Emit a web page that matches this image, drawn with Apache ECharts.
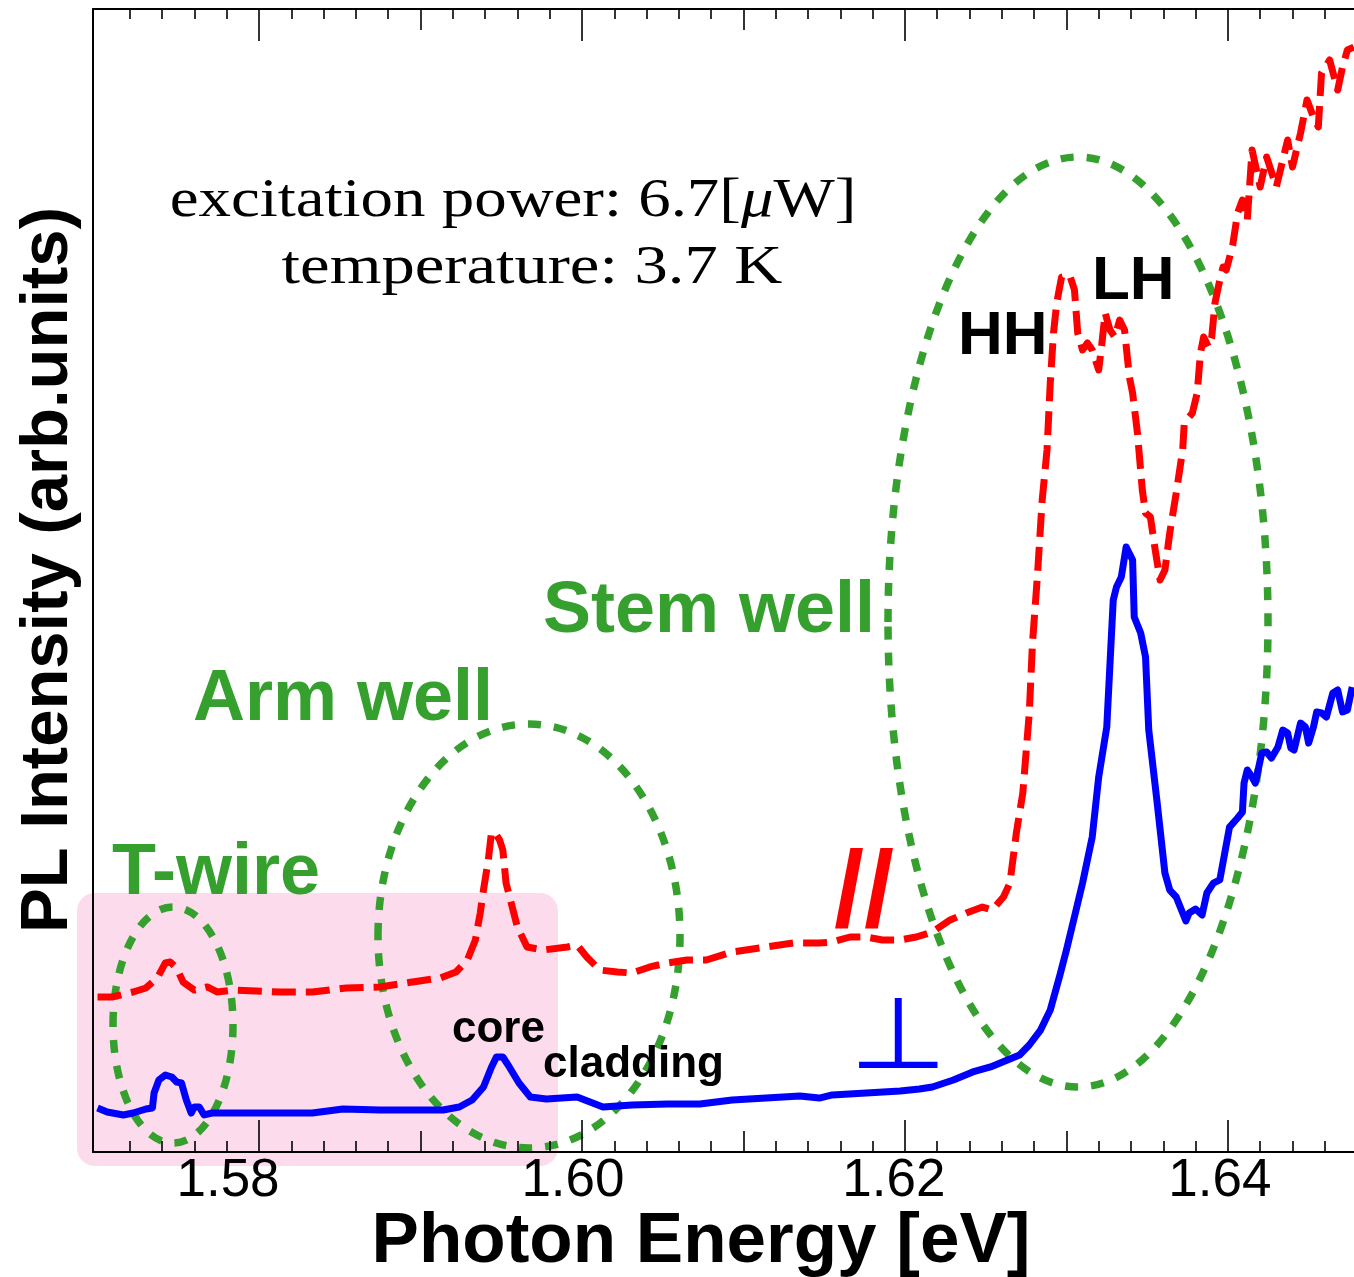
<!DOCTYPE html>
<html>
<head>
<meta charset="utf-8">
<script src="https://cdn.jsdelivr.net/npm/echarts@6/dist/echarts.min.js"></script>
<style>
  html, body { margin: 0; padding: 0; background: #ffffff; }
  #chart { width: 1354px; height: 1277px; }
</style>
</head>
<body>
<div id="chart"></div>
<script>
// PL spectra, [photon energy (eV), intensity (arb. units)]
// perpendicular polarization (solid blue)
const perpSpectrum = [
  [1.5700, 3.85], [1.5706, 3.50], [1.5716, 3.24], [1.5722, 3.41], [1.5730, 3.76],
  [1.5734, 3.85], [1.5735, 5.16], [1.5738, 6.30], [1.5742, 6.74], [1.5746, 6.56],
  [1.5749, 6.12], [1.5752, 6.04], [1.5755, 4.55], [1.5758, 3.41], [1.5760, 3.94],
  [1.5763, 3.94], [1.5766, 3.24], [1.5771, 3.41], [1.5792, 3.41], [1.5813, 3.41],
  [1.5833, 3.41], [1.5852, 3.76], [1.5875, 3.67], [1.5895, 3.67], [1.5914, 3.67],
  [1.5924, 3.94], [1.5932, 4.55], [1.5939, 5.69], [1.5944, 7.44], [1.5947, 8.31],
  [1.5951, 8.31], [1.5955, 7.44], [1.5961, 6.04], [1.5968, 4.81], [1.5978, 4.64],
  [1.5997, 4.81], [1.6005, 4.37], [1.6013, 3.94], [1.6031, 4.11], [1.6053, 4.20],
  [1.6073, 4.20], [1.6093, 4.55], [1.6114, 4.72], [1.6135, 4.90], [1.6147, 4.72],
  [1.6155, 4.99], [1.6176, 5.16], [1.6197, 5.34], [1.6209, 5.51], [1.6217, 5.69],
  [1.6230, 6.30], [1.6242, 7.00], [1.6253, 7.44], [1.6259, 7.79], [1.6271, 8.49],
  [1.6277, 9.36], [1.6284, 10.67], [1.6290, 12.42], [1.6296, 15.49], [1.6300, 17.67],
  [1.6306, 21.17], [1.6310, 23.53], [1.6316, 27.56], [1.6320, 32.81], [1.6325, 37.18],
  [1.6329, 48.29], [1.6331, 49.43], [1.6334, 50.31], [1.6337, 52.93], [1.6341, 51.79],
  [1.6342, 46.81], [1.6346, 45.41], [1.6349, 43.31], [1.6351, 36.92], [1.6356, 30.80],
  [1.6361, 24.41], [1.6364, 22.92], [1.6368, 22.31], [1.6372, 20.91], [1.6374, 20.21],
  [1.6376, 20.91], [1.6380, 21.26], [1.6384, 20.73], [1.6387, 22.66], [1.6391, 23.53],
  [1.6395, 23.80], [1.6401, 28.43], [1.6406, 29.22], [1.6409, 29.75], [1.6410, 32.28],
  [1.6412, 33.42], [1.6415, 32.81], [1.6417, 32.28], [1.6421, 34.91], [1.6424, 35.00],
  [1.6427, 34.47], [1.6431, 35.43], [1.6434, 36.92], [1.6437, 36.66], [1.6439, 35.35],
  [1.6441, 35.17], [1.6445, 37.53], [1.6448, 37.18], [1.6450, 35.78], [1.6453, 37.18],
  [1.6455, 38.50], [1.6458, 38.41], [1.6461, 38.06], [1.6465, 40.16], [1.6468, 40.42],
  [1.6471, 38.50], [1.6474, 38.67], [1.6477, 40.68]
];

// parallel polarization (dashed red)
const parSpectrum = [
  [1.5700, 13.56], [1.5709, 13.56], [1.5722, 14.00], [1.5730, 14.35], [1.5737, 15.22],
  [1.5742, 16.54], [1.5745, 16.62], [1.5749, 16.10], [1.5753, 14.87], [1.5760, 14.17],
  [1.5768, 14.44], [1.5774, 14.00], [1.5784, 14.17], [1.5813, 14.00], [1.5833, 14.00],
  [1.5854, 14.35], [1.5875, 14.44], [1.5895, 14.87], [1.5912, 15.22], [1.5922, 15.75],
  [1.5929, 16.80], [1.5934, 18.55], [1.5937, 20.91], [1.5939, 22.92], [1.5942, 25.55],
  [1.5944, 28.00], [1.5947, 27.73], [1.5949, 27.30], [1.5951, 26.42], [1.5953, 23.53],
  [1.5960, 19.69], [1.5966, 17.94], [1.5976, 17.67], [1.5991, 17.94], [1.5997, 18.11],
  [1.6003, 17.06], [1.6011, 15.92], [1.6022, 15.75], [1.6031, 15.66], [1.6042, 16.19],
  [1.6053, 16.54], [1.6065, 16.80], [1.6077, 16.80], [1.6093, 17.50], [1.6114, 17.94],
  [1.6131, 18.29], [1.6147, 18.29], [1.6155, 18.37], [1.6166, 18.81], [1.6176, 18.81],
  [1.6186, 18.55], [1.6197, 18.55], [1.6207, 18.81], [1.6217, 19.25], [1.6228, 20.30],
  [1.6238, 20.91], [1.6248, 21.43], [1.6254, 21.17], [1.6261, 22.31], [1.6265, 23.53],
  [1.6269, 27.91], [1.6273, 31.41], [1.6277, 38.41], [1.6279, 44.53], [1.6282, 50.31],
  [1.6285, 57.04], [1.6288, 61.42], [1.6290, 67.28], [1.6292, 71.65], [1.6294, 74.28],
  [1.6297, 76.55], [1.6302, 76.73], [1.6305, 75.42], [1.6307, 71.65], [1.6310, 70.17],
  [1.6313, 70.78], [1.6316, 70.17], [1.6320, 68.42], [1.6322, 70.78], [1.6324, 73.40],
  [1.6327, 71.92], [1.6330, 71.30], [1.6333, 72.79], [1.6336, 71.92], [1.6339, 67.80],
  [1.6341, 66.40], [1.6344, 62.90], [1.6347, 57.92], [1.6349, 55.91], [1.6352, 55.56],
  [1.6355, 52.67], [1.6358, 50.04], [1.6361, 50.92], [1.6364, 54.16], [1.6368, 57.65],
  [1.6372, 61.42], [1.6373, 63.78], [1.6378, 64.65], [1.6381, 66.40], [1.6383, 69.90],
  [1.6385, 71.30], [1.6388, 70.43], [1.6390, 71.30], [1.6392, 74.28], [1.6395, 76.29],
  [1.6397, 77.43], [1.6399, 77.17], [1.6403, 79.35], [1.6406, 82.15], [1.6409, 83.29],
  [1.6412, 81.54], [1.6415, 87.66], [1.6420, 84.43], [1.6424, 87.05], [1.6430, 84.43],
  [1.6434, 86.79], [1.6437, 88.54], [1.6440, 86.18], [1.6445, 89.15], [1.6449, 92.04],
  [1.6453, 90.55], [1.6456, 89.68], [1.6458, 94.40], [1.6463, 95.54], [1.6468, 92.91],
  [1.6471, 94.93], [1.6474, 96.41], [1.6478, 96.67]
];

// energy axis ticks (eV)
const majorTicks = [1.58, 1.60, 1.62, 1.64];
const tickLabels = ['1.58', '1.60', '1.62', '1.64'];
const midTicks = [1.59, 1.61, 1.63];
const minorTicks = [
  1.572, 1.574, 1.576, 1.578, 1.582, 1.584, 1.586, 1.588,
  1.592, 1.594, 1.596, 1.598, 1.602, 1.604, 1.606, 1.608,
  1.612, 1.614, 1.616, 1.618, 1.622, 1.624, 1.626, 1.628,
  1.632, 1.634, 1.636, 1.638, 1.642, 1.644, 1.646
];

const X_MIN = 1.56972, X_MAX = 1.64781;
const GREEN = '#35a02e';
const SANS = '"Liberation Sans", Arial, sans-serif';
const SERIF = '"Liberation Serif", "Times New Roman", serif';

// slight left shift of each tick label (right padding in rich text)
const labelShift = [62, 18, 22, 16];

function energyAxis(position, ticks, len, opts) {
  opts = opts || {};
  return {
    type: 'value', position: position, offset: 0, gridIndex: 0,
    min: X_MIN, max: X_MAX, z: 3,
    axisLine: { show: !!opts.line, onZero: false, lineStyle: { color: '#000', width: 2 } },
    axisTick: { show: true, inside: true, length: len, customValues: ticks,
                lineStyle: { color: '#000', width: 1.6 } },
    axisLabel: opts.labels ? {
      show: true, margin: 3, customValues: majorTicks,
      fontFamily: SANS, fontSize: 53, color: '#000',
      formatter: function (v) {
        let i = majorTicks.findIndex(t => Math.abs(t - v) < 1e-6);
        return i < 0 ? '' : '{s' + i + '|' + tickLabels[i] + '}';
      },
      rich: {
        s0: { padding: [0, labelShift[0], 0, 0], fontSize: 53, fontFamily: SANS },
        s1: { padding: [0, labelShift[1], 0, 0], fontSize: 53, fontFamily: SANS },
        s2: { padding: [0, labelShift[2], 0, 0], fontSize: 53, fontFamily: SANS },
        s3: { padding: [0, labelShift[3], 0, 0], fontSize: 53, fontFamily: SANS }
      }
    } : { show: false },
    splitLine: { show: false },
    name: opts.name || '',
    nameLocation: 'middle',
    nameGap: 55,
    nameMoveOverlap: false,
    nameTextStyle: { fontFamily: SANS, fontWeight: 'bold', fontSize: 71, color: '#000',
                     padding: [0, 45, 0, 0] }
  };
}

const chart = echarts.init(document.getElementById('chart'), null, { renderer: 'canvas' });

const option = {
  backgroundColor: '#ffffff',
  animation: false,
  grid: { left: 93, right: 0, top: 9, bottom: 125, containLabel: false, outerBoundsMode: 'none' },
  xAxis: [
    energyAxis('bottom', majorTicks, 32, { line: true, labels: true, name: 'Photon Energy [eV]' }),
    energyAxis('bottom', midTicks, 21),
    energyAxis('bottom', minorTicks, 11),
    energyAxis('top', majorTicks, 32, { line: true }),
    energyAxis('top', midTicks, 21),
    energyAxis('top', minorTicks, 10)
  ],
  yAxis: {
    type: 'value', min: 0, max: 100, position: 'left', z: 3,
    axisLine: { show: true, onZero: false, lineStyle: { color: '#000', width: 2 } },
    axisTick: { show: false }, axisLabel: { show: false }, splitLine: { show: false }
  },
  series: [
    {
      name: 'parallel', type: 'line', xAxisIndex: 0, data: parSpectrum,
      showSymbol: false, symbol: 'none', z: 2,
      lineStyle: { color: '#ff0000', width: 7, type: [24, 10], cap: 'butt', join: 'round' }
    },
    {
      name: 'perpendicular', type: 'line', xAxisIndex: 0, data: perpSpectrum,
      showSymbol: false, symbol: 'none', z: 2,
      lineStyle: { color: '#0000ff', width: 7, type: 'solid', join: 'round' }
    }
  ],
  graphic: { elements: [
    // shaded region behind the T-wire and arm-well peaks
    { type: 'rect', z: -1, silent: true,
      shape: { x: 77, y: 893, width: 481, height: 273, r: 18 },
      style: { fill: '#fcdcec' } },
    // dotted outlines grouping the emission bands
    { type: 'ellipse', z: 1, silent: true,
      shape: { cx: 173, cy: 1025, rx: 60, ry: 118 },
      style: { fill: 'none', stroke: GREEN, lineWidth: 7.5, lineDash: [13, 13] } },
    { type: 'ellipse', z: 1, silent: true,
      shape: { cx: 529, cy: 936, rx: 151, ry: 212 },
      style: { fill: 'none', stroke: GREEN, lineWidth: 7.5, lineDash: [13, 13] } },
    { type: 'ellipse', z: 1, silent: true,
      shape: { cx: 1078, cy: 622, rx: 190, ry: 465 },
      style: { fill: 'none', stroke: GREEN, lineWidth: 7.5, lineDash: [13, 13] } },

    { type: 'text', z: 10, x: 49, y: 570, rotation: Math.PI / 2,
      style: { text: 'PL Intensity (arb.units)', font: 'bold 67px ' + SANS, fill: '#000',
               align: 'center', verticalAlign: 'middle' } },

    { type: 'text', z: 10, x: 513, y: 202, scaleX: 1.18,
      style: { text: '{a|excitation power: 6.7[}{i|\u03bc}{a|W]}', align: 'center', verticalAlign: 'middle',
               rich: { a: { font: '55px ' + SERIF, fill: '#000' },
                       i: { font: 'italic 55px ' + SERIF, fill: '#000' } } } },
    { type: 'text', z: 10, x: 532, y: 269, scaleX: 1.21,
      style: { text: 'temperature: 3.7 K', font: '55px ' + SERIF, fill: '#000',
               align: 'center', verticalAlign: 'middle' } },

    { type: 'text', z: 10, x: 112, y: 874,
      style: { text: 'T-wire', font: 'bold 72px ' + SANS, fill: GREEN, align: 'left', verticalAlign: 'middle' } },
    { type: 'text', z: 10, x: 193, y: 700,
      style: { text: 'Arm well', font: 'bold 72px ' + SANS, fill: GREEN, align: 'left', verticalAlign: 'middle' } },
    { type: 'text', z: 10, x: 543, y: 612,
      style: { text: 'Stem well', font: 'bold 72px ' + SANS, fill: GREEN, align: 'left', verticalAlign: 'middle' } },

    { type: 'text', z: 10, x: 958, y: 337,
      style: { text: 'HH', font: 'bold 62px ' + SANS, fill: '#000', align: 'left', verticalAlign: 'middle' } },
    { type: 'text', z: 10, x: 1092, y: 282,
      style: { text: 'LH', font: 'bold 62px ' + SANS, fill: '#000', align: 'left', verticalAlign: 'middle' } },

    { type: 'text', z: 10, x: 452, y: 1030,
      style: { text: 'core', font: 'bold 44px ' + SANS, fill: '#000', align: 'left', verticalAlign: 'middle' } },
    { type: 'text', z: 10, x: 543, y: 1065,
      style: { text: 'cladding', font: 'bold 44px ' + SANS, fill: '#000', align: 'left', verticalAlign: 'middle' } },

    // polarization markers
    { type: 'text', z: 10, x: 834, y: 896,
      style: { text: '//', font: 'bold 108px ' + SANS, fill: '#ff0000', align: 'left', verticalAlign: 'middle' } },
    { type: 'text', z: 10, x: 898, y: 1042, scaleX: 1.12,
      style: { text: '\u22a5', font: '100px "DejaVu Sans", sans-serif', fill: '#0000ff', align: 'center', verticalAlign: 'middle' } }
  ] }
};

chart.setOption(option);
</script>
</body>
</html>
